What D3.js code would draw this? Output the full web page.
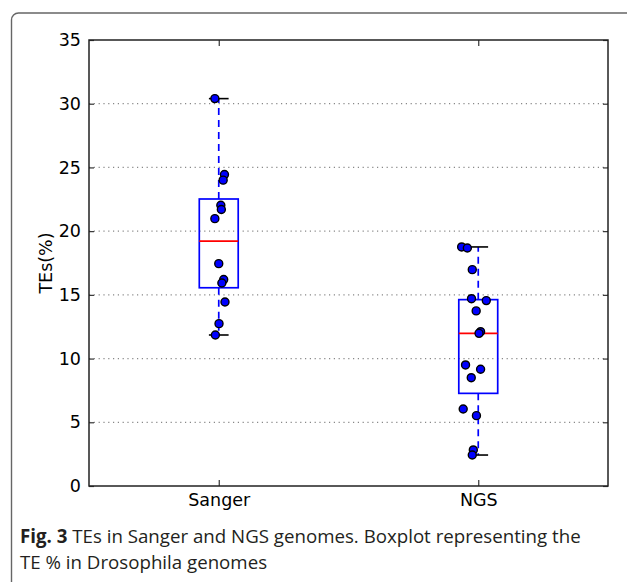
<!DOCTYPE html>
<html>
<head>
<meta charset="utf-8">
<script src="https://d3js.org/d3.v7.min.js"></script>
<style>
  body { margin: 0; background: #fff; }
  svg { display: block; }
  .tick text { font-family: "DejaVu Sans", sans-serif; font-size: 17.5px; fill: #000; }
  .caption { font-family: "Open Sans", "Noto Sans", sans-serif; fill: #231f20; }
</style>
</head>
<body>
<svg id="chart" width="627" height="582"></svg>
<script>
// data
var groups = ["Sanger", "NGS"]
var positions = [1, 2]
var sangerValues = [30.4, 24.44, 24.0, 22.03, 21.7, 20.98, 17.45, 16.2, 15.93, 14.44, 12.74, 11.85]
var sangerJitter = [-0.015, 0.022, 0.017, 0.008, 0.010, -0.015, 0.0, 0.019, 0.012, 0.024, 0.001, -0.013]
var ngsValues = [18.76, 18.68, 16.98, 14.70, 14.55, 13.74, 12.11, 11.98, 9.5, 9.16, 8.5, 6.04, 5.52, 2.83, 2.43]
var ngsJitter = [-0.064, -0.042, -0.023, -0.026, 0.031, -0.008, 0.009, 0.003, -0.049, 0.009, -0.027, -0.058, -0.007, -0.019, -0.023]
var yTicks = [0, 5, 10, 15, 20, 25, 30, 35]

var svg = d3.select("#chart")
var margin = {left: 89, right: 19, top: 40, bottom: 96}
var width = 627 - margin.left - margin.right
var height = 582 - margin.top - margin.bottom

var x = d3.scaleLinear().domain([0.5, 2.5]).range([margin.left, margin.left + width])
var y = d3.scaleLinear().domain([0, 35]).range([margin.top + height, margin.top])

// outer frame of the figure panel
svg.append("rect")
  .attr("x", 11.5).attr("y", 13)
  .attr("width", 640).attr("height", 600)
  .attr("rx", 7)
  .attr("fill", "none")
  .attr("stroke", "#666")
  .attr("stroke-width", 1.4)

// grid
svg.append("g").selectAll("line")
  .data(yTicks.slice(1, -1))
  .enter().append("line")
  .attr("x1", x(0.5)).attr("x2", x(2.5))
  .attr("y1", function(d) { return y(d) }).attr("y2", function(d) { return y(d) })
  .attr("stroke", "#888")
  .attr("stroke-width", 1.2)
  .attr("stroke-dasharray", "1.2,3.6")

function stats(vals) {
  var s = vals.slice().sort(d3.ascending)
  var q1 = d3.quantile(s, 0.25), med = d3.quantile(s, 0.5), q3 = d3.quantile(s, 0.75)
  var iqr = q3 - q1
  var lo = d3.min(s.filter(function(v) { return v >= q1 - 1.5 * iqr }))
  var hi = d3.max(s.filter(function(v) { return v <= q3 + 1.5 * iqr }))
  return {q1: q1, med: med, q3: q3, lo: lo, hi: hi}
}

var series = [
  {name: groups[0], pos: positions[0], values: sangerValues, jitter: sangerJitter},
  {name: groups[1], pos: positions[1], values: ngsValues, jitter: ngsJitter}
]
var boxHalf = 0.075, capHalf = 0.038

series.forEach(function(s) {
  var st = stats(s.values)
  var g = svg.append("g")
  // whiskers
  g.append("line")
    .attr("x1", x(s.pos)).attr("x2", x(s.pos))
    .attr("y1", y(st.q3)).attr("y2", y(st.hi))
    .attr("stroke", "#0000ff").attr("stroke-width", 1.7).attr("stroke-dasharray", "7,5")
  g.append("line")
    .attr("x1", x(s.pos)).attr("x2", x(s.pos))
    .attr("y1", y(st.q1)).attr("y2", y(st.lo))
    .attr("stroke", "#0000ff").attr("stroke-width", 1.7).attr("stroke-dasharray", "7,5")
  // caps
  ;[st.lo, st.hi].forEach(function(v) {
    g.append("line")
      .attr("x1", x(s.pos - capHalf)).attr("x2", x(s.pos + capHalf))
      .attr("y1", y(v)).attr("y2", y(v))
      .attr("stroke", "#000").attr("stroke-width", 1.6)
  })
  // box
  g.append("rect")
    .attr("x", x(s.pos - boxHalf)).attr("width", x(s.pos + boxHalf) - x(s.pos - boxHalf))
    .attr("y", y(st.q3)).attr("height", y(st.q1) - y(st.q3))
    .attr("fill", "none").attr("stroke", "#0000ff").attr("stroke-width", 1.7)
  // median
  g.append("line")
    .attr("x1", x(s.pos - boxHalf)).attr("x2", x(s.pos + boxHalf))
    .attr("y1", y(st.med)).attr("y2", y(st.med))
    .attr("stroke", "#ff0000").attr("stroke-width", 1.7)
})

// points on top
series.forEach(function(s) {
  svg.append("g").selectAll("circle")
    .data(s.values)
    .enter().append("circle")
    .attr("cx", function(d, i) { return x(s.pos + s.jitter[i]) })
    .attr("cy", function(d) { return y(d) })
    .attr("r", 4)
    .attr("fill", "#0000ff")
    .attr("stroke", "#000")
    .attr("stroke-width", 1.4)
})

// axes, ticks pointing inward like old matplotlib
svg.append("g")
  .attr("transform", "translate(" + margin.left + ",0)")
  .call(d3.axisLeft(y).tickValues(yTicks).tickSize(-5).tickPadding(8))
svg.append("g")
  .attr("transform", "translate(" + (margin.left + width) + ",0)")
  .call(d3.axisRight(y).tickValues(yTicks).tickSize(-5).tickFormat(""))
svg.append("g")
  .attr("transform", "translate(0," + (margin.top + height) + ")")
  .call(d3.axisBottom(x).tickValues(positions).tickSize(-6).tickPadding(8)
    .tickFormat(function(d, i) { return groups[i] }))
svg.append("g")
  .attr("transform", "translate(0," + margin.top + ")")
  .call(d3.axisTop(x).tickValues(positions).tickSize(-6).tickFormat(""))

svg.selectAll(".domain").remove()
svg.selectAll(".tick line").attr("stroke", "#333").attr("stroke-width", 1.2)

// plot frame
svg.append("rect")
  .attr("x", margin.left).attr("y", margin.top)
  .attr("width", width).attr("height", height)
  .attr("fill", "none").attr("stroke", "#222").attr("stroke-width", 1.5)

svg.append("text")
  .attr("transform", "translate(52," + (margin.top + height / 2) + ") rotate(-90)")
  .attr("text-anchor", "middle")
  .attr("font-family", "DejaVu Sans, sans-serif")
  .attr("font-size", "17.5px")
  .text("TEs(%)")

// caption
var cap1 = svg.append("text").attr("class", "caption")
  .attr("x", 20).attr("y", 543).attr("font-size", "18.7px")
cap1.append("tspan").attr("font-weight", "bold").text("Fig. 3")
cap1.append("tspan").text(" TEs in Sanger and NGS genomes. Boxplot representing the")
svg.append("text").attr("class", "caption")
  .attr("x", 20).attr("y", 569).attr("font-size", "18.7px")
  .text("TE % in Drosophila genomes")
</script>
</body>
</html>
